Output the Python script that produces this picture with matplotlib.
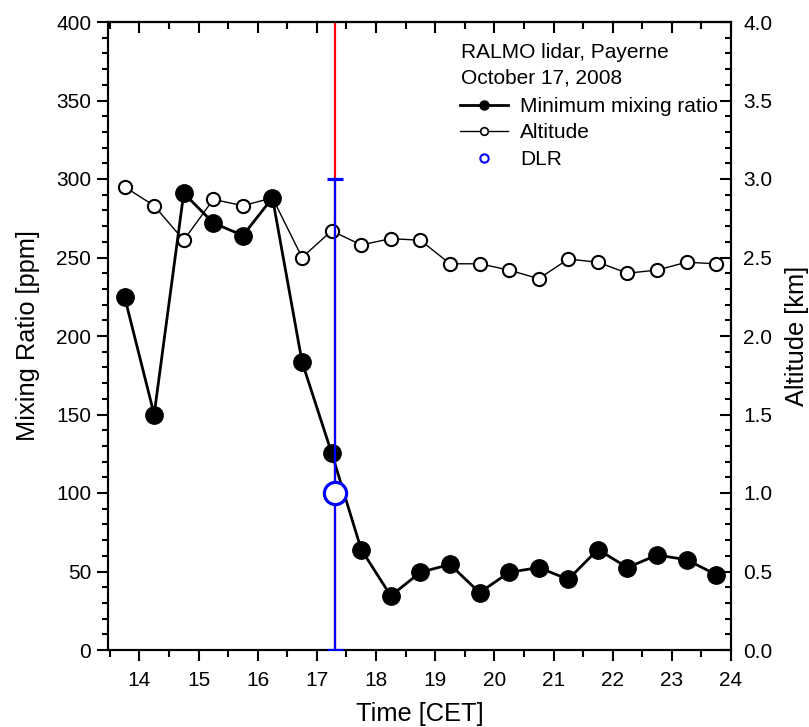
import matplotlib
matplotlib.use("Agg")
import matplotlib.pyplot as plt
from matplotlib.lines import Line2D
from matplotlib.ticker import MultipleLocator, FormatStrFormatter

plt.rcParams['font.family'] = ['Liberation Sans', 'DejaVu Sans']

# ---- data ----
times = [13.75, 14.25, 14.75, 15.25, 15.75, 16.25, 16.75, 17.25, 17.75, 18.25, 18.75,
         19.25, 19.75, 20.25, 20.75, 21.25, 21.75, 22.25, 22.75, 23.25, 23.75]
min_mixing_ratio = [225, 150, 291, 272, 264, 288, 183.5, 125.5, 64, 34.5, 49.5,
                    54.5, 36.5, 49.5, 52.5, 45, 64, 52.5, 60.5, 57.5, 48]
altitude_km = [2.95, 2.83, 2.61, 2.87, 2.83, 2.88, 2.50, 2.67, 2.58, 2.62, 2.61,
               2.46, 2.46, 2.42, 2.365, 2.49, 2.47, 2.40, 2.42, 2.47, 2.46]
dlr_time = 17.3
dlr_value = 100
dlr_err_low = 100
dlr_err_high = 200

header_lines = ["RALMO lidar, Payerne", "October 17, 2008"]
legend_labels = ["Minimum mixing ratio", "Altitude", "DLR"]

W, H = 809, 727
fig = plt.figure(figsize=(W / 100, H / 100), dpi=100)
left, right, top, bottom = 108, 731, 22, 650
ax = fig.add_axes([left / W, 1 - bottom / H, (right - left) / W, (bottom - top) / H])
ax2 = ax.twinx()

# altitude (right axis)
ax2.plot(times, altitude_km, '-', color='black', lw=1.0, marker='o', ms=9.5,
         mfc='white', mec='black', mew=1.5, zorder=2)
ax2.set_ylim(0, 4)

# put main axis on top
ax.set_zorder(ax2.get_zorder() + 1)
ax.patch.set_visible(False)

ax.axvline(dlr_time, color='red', lw=1.6, zorder=1)
ax.plot(times, min_mixing_ratio, '-', color='black', lw=2.0, marker='o', ms=12.5,
        mfc='black', mec='black', zorder=3)
ax.errorbar([dlr_time], [dlr_value], yerr=[[dlr_err_low], [dlr_err_high]], fmt='o',
            color='blue', ecolor='blue', elinewidth=1.6, capsize=6, capthick=1.6,
            ms=16, mfc='white', mec='blue', mew=2.3, zorder=4)

ax.set_xlim(13.47, 24)
ax.set_ylim(0, 400)

ax.xaxis.set_major_locator(MultipleLocator(1))
ax.xaxis.set_minor_locator(MultipleLocator(0.5))
ax.yaxis.set_major_locator(MultipleLocator(50))
ax.yaxis.set_minor_locator(MultipleLocator(10))
ax2.yaxis.set_major_locator(MultipleLocator(0.5))
ax2.yaxis.set_minor_locator(MultipleLocator(0.1))
ax2.yaxis.set_major_formatter(FormatStrFormatter('%.1f'))

for a in (ax, ax2):
    for s in a.spines.values():
        s.set_linewidth(1.5)

TL = 15
ax.tick_params(axis='x', which='both', direction='out', top=False, labeltop=False,
               labelsize=TL, pad=7, width=1.5)
ax.tick_params(axis='x', which='major', length=8)
ax.tick_params(axis='x', which='minor', length=5)
ax.tick_params(axis='y', which='both', direction='out', right=False, labelsize=TL, pad=4, width=1.5)
ax.tick_params(axis='y', which='major', length=8)
ax.tick_params(axis='y', which='minor', length=4.5)
ax2.tick_params(axis='y', which='both', direction='in', labelsize=TL, pad=9, width=1.5)
ax2.tick_params(axis='y', which='major', length=8)
ax2.tick_params(axis='y', which='minor', length=4.5)

axt = ax.secondary_xaxis('top')
axt.xaxis.set_major_locator(MultipleLocator(1))
axt.xaxis.set_minor_locator(MultipleLocator(0.5))
axt.tick_params(axis='x', which='both', direction='in', labeltop=False, width=1.5)
axt.tick_params(axis='x', which='major', length=8)
axt.tick_params(axis='x', which='minor', length=5)
axt.spines['top'].set_linewidth(1.5)

ax.set_xlabel("Time [CET]", fontsize=18.3, labelpad=9)
ax.set_ylabel("Mixing Ratio [ppm]", fontsize=18.3, labelpad=12)
ax2.set_ylabel("Altitude [km]", fontsize=18.3, labelpad=9)

# header text
LF = 15
fig.text(461 / W, 1 - 52 / H, header_lines[0], fontsize=LF, va='center', ha='left')
fig.text(461 / W, 1 - 78 / H, header_lines[1], fontsize=LF, va='center', ha='left')

handles = [
    Line2D([], [], color='black', lw=2.0, marker='o', ms=6.5, mfc='black', mec='black'),
    Line2D([], [], color='black', lw=1.0, marker='o', ms=5.5, mfc='white', mec='black', mew=1.2),
    Line2D([], [], color='none', marker='o', ms=6, mfc='white', mec='blue', mew=1.5),
]
fig.legend(handles, legend_labels, loc='upper left',
           bbox_to_anchor=(460 / W, 1 - 97 / H), frameon=False, fontsize=LF,
           handlelength=2.3, handletextpad=0.58, labelspacing=0.36, borderaxespad=0,
           borderpad=0)

fig.savefig("out.png", dpi=100)
